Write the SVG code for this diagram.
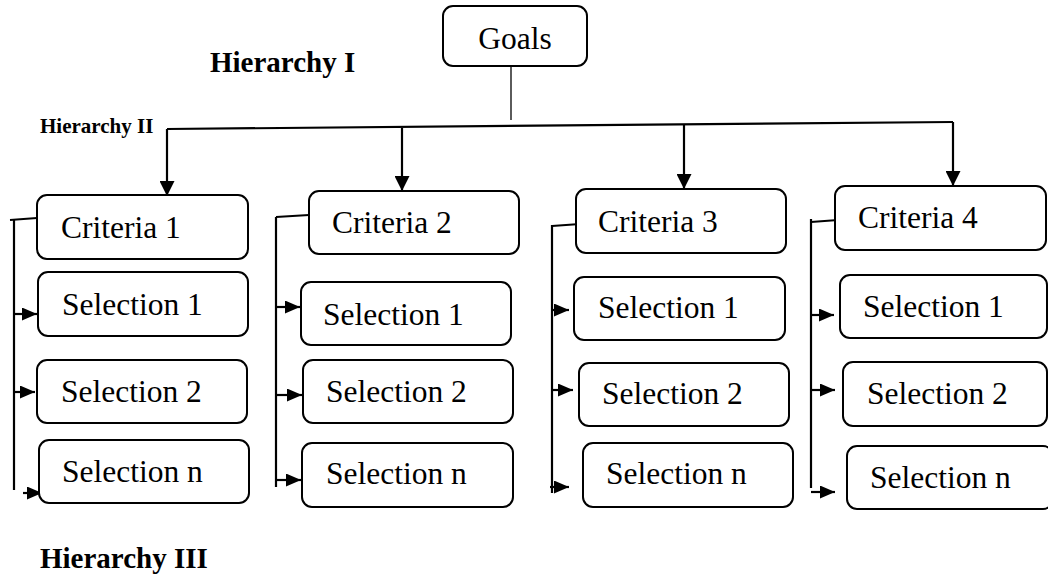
<svg xmlns="http://www.w3.org/2000/svg" width="1048" height="576" viewBox="0 0 1048 576">
<style>
.box{fill:#fff;stroke:#000;stroke-width:2}
.t{font-family:"Liberation Serif","Times New Roman",serif;font-size:31.5px;fill:#000}
.h{font-family:"Liberation Serif","Times New Roman",serif;font-weight:bold;fill:#000}
.c{fill:none;stroke:#000;stroke-width:2.2}
.thin{fill:none;stroke:#333;stroke-width:1.6}
</style>
<defs>
<marker id="down" markerUnits="userSpaceOnUse" viewBox="0 0 15 15" refX="15" refY="7.5" markerWidth="15" markerHeight="15" orient="auto">
<path d="M0,0 L15,7.5 L0,15 Z" fill="#000"/>
</marker>
<marker id="side" markerUnits="userSpaceOnUse" viewBox="0 0 15 13" refX="15" refY="6.5" markerWidth="15" markerHeight="13" orient="auto">
<path d="M0,0 L15,6.5 L0,13 Z" fill="#000"/>
</marker>
</defs>
<rect width="1048" height="576" fill="#fff"/>

<g id="labels">
<text class="h" x="210" y="72" font-size="29">Hierarchy I</text>
<text class="h" x="40" y="133" font-size="21">Hierarchy II</text>
<text class="h" x="40" y="568" font-size="29">Hierarchy III</text>
</g>

<g id="connectors">
<line class="thin" x1="511" y1="66" x2="511" y2="120"/>
<line class="c" x1="167" y1="129" x2="953" y2="122"/>
<line class="c" x1="167" y1="129" x2="167" y2="196" marker-end="url(#down)"/>
<line class="c" x1="402" y1="128" x2="402" y2="191" marker-end="url(#down)"/>
<line class="c" x1="684" y1="125" x2="684" y2="189" marker-end="url(#down)"/>
<line class="c" x1="953" y1="122" x2="953" y2="186" marker-end="url(#down)"/>

<line class="c" x1="14" y1="220" x2="14" y2="490"/>
<line class="c" x1="10" y1="220" x2="37" y2="218"/>
<line class="c" x1="14" y1="314" x2="37" y2="314" marker-end="url(#side)"/>
<line class="c" x1="14" y1="392" x2="35" y2="392" marker-end="url(#side)"/>
<line class="c" x1="23" y1="493" x2="42" y2="493" marker-end="url(#side)"/>

<line class="c" x1="276" y1="217" x2="276" y2="487"/>
<line class="c" x1="276" y1="217" x2="309" y2="215"/>
<line class="c" x1="276" y1="307" x2="300" y2="307" marker-end="url(#side)"/>
<line class="c" x1="276" y1="395" x2="302" y2="395" marker-end="url(#side)"/>
<line class="c" x1="276" y1="480" x2="301" y2="480" marker-end="url(#side)"/>

<line class="c" x1="552" y1="225" x2="552" y2="493"/>
<line class="c" x1="552" y1="226" x2="580" y2="224"/>
<line class="c" x1="552" y1="310" x2="569" y2="310" marker-end="url(#side)"/>
<line class="c" x1="552" y1="390" x2="573" y2="390" marker-end="url(#side)"/>
<line class="c" x1="550" y1="487" x2="569" y2="487" marker-end="url(#side)"/>

<line class="c" x1="811" y1="219" x2="811" y2="488"/>
<line class="c" x1="811" y1="222" x2="838" y2="220"/>
<line class="c" x1="811" y1="315" x2="834" y2="315" marker-end="url(#side)"/>
<line class="c" x1="811" y1="390" x2="835" y2="390" marker-end="url(#side)"/>
<line class="c" x1="811" y1="492" x2="835" y2="492" marker-end="url(#side)"/>
</g>

<g id="goals"><rect class="box" x="443" y="6" width="144" height="60" rx="10"/><text class="t" x="515" y="49" text-anchor="middle" font-size="32">Goals</text></g>

<g id="criteria1"><rect class="box" x="37" y="195" width="211" height="64" rx="10"/><text class="t" x="61" y="238">Criteria 1</text></g>
<g id="c1-sel1"><rect class="box" x="38" y="272" width="210" height="64" rx="10"/><text class="t" x="62" y="315">Selection 1</text></g>
<g id="c1-sel2"><rect class="box" x="37" y="360" width="210" height="63" rx="10"/><text class="t" x="61" y="402">Selection 2</text></g>
<g id="c1-seln"><rect class="box" x="39" y="440" width="210" height="63" rx="10"/><text class="t" x="62" y="482">Selection n</text></g>

<g id="criteria2"><rect class="box" x="309" y="191" width="210" height="63" rx="10"/><text class="t" x="332" y="233">Criteria 2</text></g>
<g id="c2-sel1"><rect class="box" x="301" y="282" width="210" height="63" rx="10"/><text class="t" x="323" y="325">Selection 1</text></g>
<g id="c2-sel2"><rect class="box" x="303" y="360" width="210" height="63" rx="10"/><text class="t" x="326" y="402">Selection 2</text></g>
<g id="c2-seln"><rect class="box" x="302" y="443" width="211" height="64" rx="10"/><text class="t" x="326" y="484">Selection n</text></g>

<g id="criteria3"><rect class="box" x="576" y="189" width="210" height="64" rx="10"/><text class="t" x="598" y="232">Criteria 3</text></g>
<g id="c3-sel1"><rect class="box" x="574" y="277" width="211" height="63" rx="10"/><text class="t" x="598" y="318">Selection 1</text></g>
<g id="c3-sel2"><rect class="box" x="579" y="363" width="210" height="63" rx="10"/><text class="t" x="602" y="404">Selection 2</text></g>
<g id="c3-seln"><rect class="box" x="583" y="443" width="210" height="64" rx="10"/><text class="t" x="606" y="484">Selection n</text></g>

<g id="criteria4"><rect class="box" x="835" y="186" width="211" height="64" rx="10"/><text class="t" x="858" y="228">Criteria 4</text></g>
<g id="c4-sel1"><rect class="box" x="840" y="275" width="207" height="63" rx="10"/><text class="t" x="863" y="317">Selection 1</text></g>
<g id="c4-sel2"><rect class="box" x="843" y="362" width="204" height="64" rx="10"/><text class="t" x="867" y="404">Selection 2</text></g>
<g id="c4-seln"><rect class="box" x="847" y="446" width="206" height="63" rx="10"/><text class="t" x="870" y="488">Selection n</text></g>
</svg>
